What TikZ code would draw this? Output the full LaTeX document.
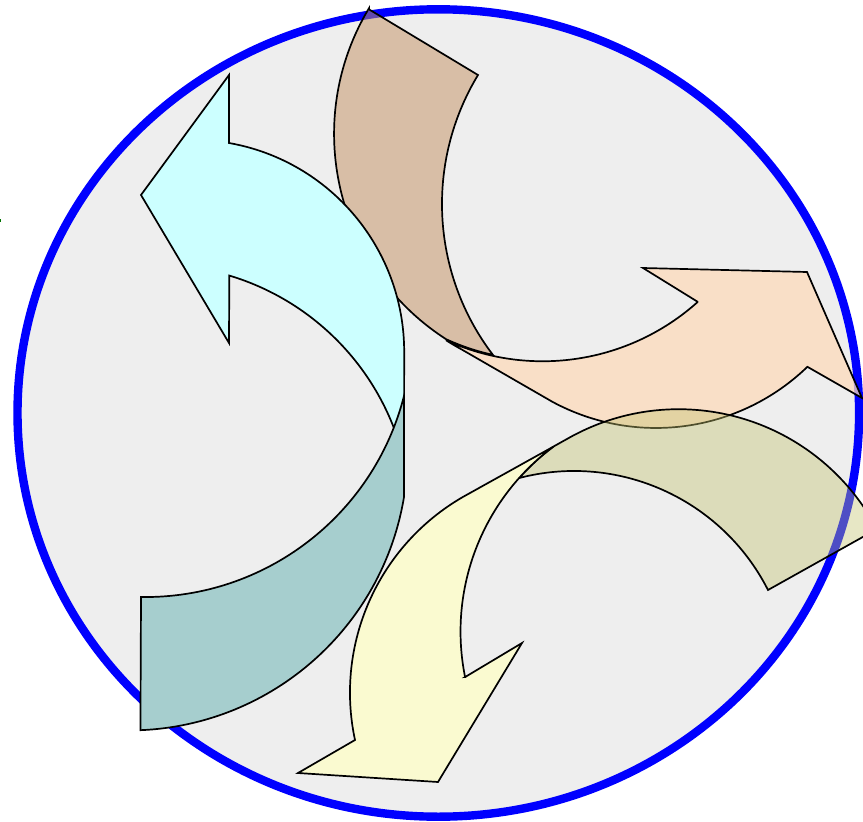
\documentclass[tikz,border=0pt]{standalone}
\definecolor{bgray}{RGB}{238,238,238}
\definecolor{ringblue}{RGB}{0,0,255}
\definecolor{cyanhead}{RGB}{204,255,255}
\definecolor{tealtail}{RGB}{166,206,206}
\definecolor{browntail}{RGB}{196,144,96}
\definecolor{peachhead}{RGB}{253,219,187}
\definecolor{olivetail}{RGB}{195,195,110}
\definecolor{yellowhead}{RGB}{250,250,208}
\begin{document}
\begin{tikzpicture}[x=1pt,y=-1pt,
  shapeline/.style={draw=black, line width=1.7pt, line join=miter}]
\useasboundingbox (0,0) rectangle (863,822);
\clip (0,0) rectangle (863,822);
% ring
\draw[fill=bgray, draw=ringblue, line width=8.4pt] (438.3,413) ellipse [x radius=420.8, y radius=403.7];
% tiny mark at left edge
\fill[green!45!black] (0,218.5) rectangle (1.4,221.5);
% top figure: tail band
\path[shapeline, fill=browntail, fill opacity=0.5]
  (368.9,9.3) -- (478,75)
  arc[start angle=211.2, end angle=142.7, radius=249]
  arc[start angle=102.4, end angle=114.6, radius=232.3]
  arc[start angle=122.75, end angle=211, radius=244] -- cycle;
% top figure: head
\path[shapeline, fill=peachhead, fill opacity=0.75]
  (698,302) -- (643,268) -- (807,272) -- (862,398) -- (807.4,366.8)
  arc[start angle=46, end angle=118.4, radius=218]
  -- (461.9,349.6)
  arc[start angle=118.4, end angle=122.75, radius=244]
  arc[start angle=114.6, end angle=48.1, radius=232.3] -- cycle;
% lower right figure: tail band
\path[shapeline, fill=olivetail, fill opacity=0.4]
  (768,590)
  arc[start angle=333.06, end angle=255.36, radius=217.6]
  arc[start angle=221.73, end angle=233.4, radius=230.5]
  -- (566.8,439.1)
  arc[start angle=240.06, end angle=332.3, radius=224] -- cycle;
% lower right figure: head
\path[shapeline, fill=yellowhead]
  (465,677.1) -- (522,643) -- (438,782) -- (298,773) -- (355,740)
  arc[start angle=167.9, end angle=240.06, radius=226]
  -- (553.6,446.5)
  arc[start angle=233.4, end angle=168.6, radius=230.5] -- cycle;
% left figure: head
\path[shapeline, fill=cyanhead]
  (141,195) -- (229,75) -- (229,143)
  arc[start angle=-80, end angle=0, radius=212]
  -- (404,460.4)
  arc[start angle=-13.47, end angle=-73.3, radius=255]
  -- (229,343) -- cycle;
% left figure: tail band
\path[shapeline, fill=tealtail]
  (141,597)
  arc[start angle=90.9, end angle=14.33, radius=267.1]
  -- (404,497)
  arc[start angle=9.4, end angle=87.6, radius=279] -- cycle;
\end{tikzpicture}
\end{document}
